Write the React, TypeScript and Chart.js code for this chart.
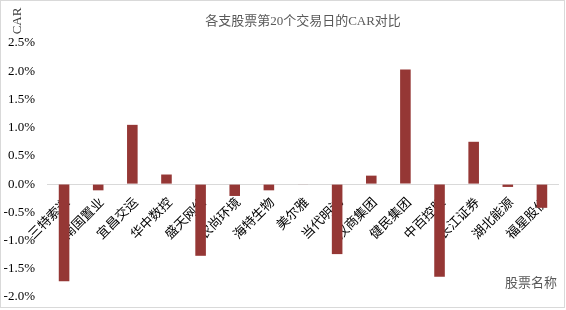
import React, { useEffect, useRef } from "react";
import { Chart, registerables } from "chart.js";

Chart.register(...registerables);

const categories = [
  "三特索道", "南国置业", "宜昌交运", "华中数控", "盛天网络", "农尚环境", "海特生物", "美尔雅",
  "当代明诚", "汉商集团", "健民集团", "中百控股", "长江证券", "湖北能源", "福星股份",
];
const carValues = [
  -1.72, -0.11, 1.05, 0.17, -1.27, -0.21, -0.11, -0.01,
  -1.24, 0.15, 2.03, -1.64, 0.75, -0.05, -0.42,
];
const yTickMin = -2.0;
const yTickMax = 2.5;
const yTickStep = 0.5;
const titleText = "各支股票第20个交易日的CAR对比";
const yTitle = "CAR";
const xTitle = "股票名称";

const FONT = '"Liberation Serif", "Noto Sans CJK SC", serif';

const decorPlugin = {
  id: "decor",
  beforeDraw(chart: any) {
    const { ctx, width, height } = chart;
    ctx.save();
    ctx.fillStyle = "#ffffff";
    ctx.fillRect(0, 0, width, height);
    ctx.strokeStyle = "#d9d9d9";
    ctx.lineWidth = 1;
    ctx.strokeRect(0.5, 0.5, width - 2, height - 3);
    ctx.restore();
  },
  afterDraw(chart: any) {
    const { ctx, chartArea } = chart;
    ctx.save();
    ctx.font = `13px ${FONT}`;
    ctx.fillStyle = "#595959";
    ctx.textAlign = "center";
    ctx.textBaseline = "middle";
    ctx.fillText(titleText, (chartArea.left + chartArea.right) / 2, 22);
    ctx.textAlign = "right";
    ctx.fillText(xTitle, 557, 284);
    ctx.translate(18, 21);
    ctx.rotate(-Math.PI / 2);
    ctx.textAlign = "center";
    ctx.fillStyle = "#404040";
    ctx.fillText(yTitle, 0, 0);
    ctx.restore();
  },
};

export default function App() {
  const ref = useRef<HTMLCanvasElement>(null);
  useEffect(() => {
    if (!ref.current) return;
    const chart = new Chart(ref.current, {
      type: "bar",
      data: {
        labels: categories,
        datasets: [
          {
            data: carValues,
            backgroundColor: "#953735",
            borderWidth: 0,
            barPercentage: 0.31,
            categoryPercentage: 1,
          },
        ],
      },
      options: {
        animation: false,
        responsive: false,
        layout: { padding: { top: 43, bottom: 13, right: 7, left: 0 } },
        plugins: {
          legend: { display: false },
          title: { display: false },
          tooltip: { enabled: false },
        },
        scales: {
          x: {
            position: { y: 0 } as any,
            z: 1,
            grid: { display: false, drawTicks: false },
            border: { display: false },
            ticks: {
              autoSkip: false,
              minRotation: 45,
              maxRotation: 45,
              padding: 11,
              labelOffset: 4,
              color: "#000000",
              font: { family: FONT, size: 13 },
            },
          },
          y: {
            min: yTickMin,
            max: yTickMax,
            grid: {
              display: true,
              drawTicks: false,
              lineWidth: 1,
              color: (c: any) => (c.tick && c.tick.value === 0 ? "#d9d9d9" : "rgba(0,0,0,0)"),
            },
            border: { display: false },
            ticks: {
              stepSize: yTickStep,
              padding: 12,
              color: "#000000",
              font: { family: FONT, size: 13 },
              callback: (v: any) => Number(v).toFixed(1) + "%",
            },
            afterFit: (scale: any) => {
              scale.width = 47;
              scale.paddingTop = 7;
              scale.paddingBottom = 7;
            },
          },
        },
      },
      plugins: [decorPlugin],
    });
    return () => chart.destroy();
  }, []);
  return (
    <div style={{ position: "fixed", left: 0, top: 0, width: 566, height: 310 }}>
      <canvas ref={ref} width={566} height={310} />
    </div>
  );
}
